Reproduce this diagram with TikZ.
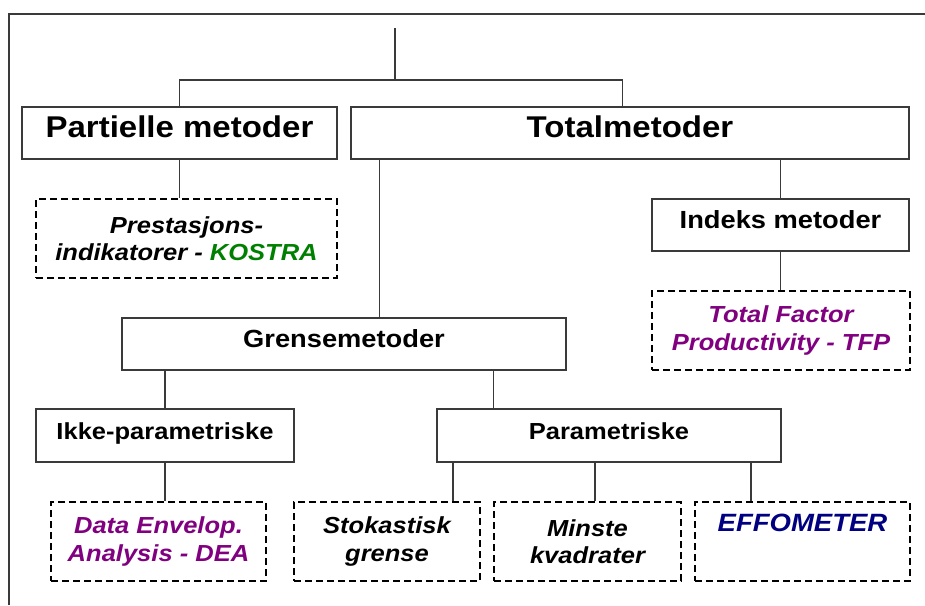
\documentclass[tikz,border=0pt]{standalone}
\usepackage{fontspec}
\setmainfont{Liberation Sans}[FakeStretch=1.1]
\usetikzlibrary{calc}
\definecolor{kostra}{RGB}{0,128,0}
\definecolor{purp}{RGB}{128,0,128}
\definecolor{navyb}{RGB}{0,0,128}
\definecolor{rule}{RGB}{58,58,58}

\begin{document}
\begin{tikzpicture}[x=1pt,y=-1pt,
  solidbox/.style={draw=rule,line width=1.2pt,rectangle,inner sep=0pt,minimum height=52},
  lvlone/.style={solidbox,font=\bfseries\fontsize{30}{34}\selectfont,text height=22pt,text depth=13pt},
  lvltwo/.style={solidbox,font=\bfseries\fontsize{24.8}{29}\selectfont,text height=18pt,text depth=10.5pt},
  lvlthree/.style={solidbox,font=\bfseries\fontsize{23.2}{27}\selectfont,text height=17pt,text depth=9pt,minimum height=53},
  dashbox/.style={draw=black,line width=2pt,dash pattern=on 7pt off 4pt,rectangle,inner sep=0pt,
    align=center,font=\bfseries\itshape\fontsize{23.2}{27.5}\selectfont,minimum height=79},
  link/.style={draw=rule,line width=1.2pt}
]
\useasboundingbox (0,0) rectangle (925,605);

% open frame along the top and left edges
\draw[link] (925,14) -- (9,14) -- (9,605);

% boxes
\node[lvlone,minimum width=315] (part)  at (179.5,133) {Partielle metoder};
\node[lvlone,minimum width=558] (total) at (630,133)   {Totalmetoder};
\node[dashbox,minimum width=301] (prest) at (186.5,238.5)
  {Prestasjons-\\indikatorer - {\color{kostra}KOSTRA}};
\node[lvltwo,minimum width=257] (indeks) at (780.5,225) {Indeks metoder};
\node[dashbox,minimum width=258,text=purp] (tfp) at (781,330.5)
  {Total Factor\\Productivity - TFP};
\node[lvltwo,minimum width=444] (grense) at (344,344) {Grensemetoder};
\node[lvlthree,minimum width=258] (ikke)  at (165,435.5) {Ikke-parametriske};
\node[lvlthree,minimum width=344] (param) at (609,435.5) {Parametriske};
\node[dashbox,minimum width=215,text=purp] (dea) at (158.5,541.5)
  {Data Envelop.\\Analysis - DEA};
\node[dashbox,minimum width=186] (stok)   at (387,541.5) {Stokastisk\\grense};
\node[dashbox,minimum width=187] (minste) at (587.5,541.5) {Minste\\kvadrater};
\node[dashbox,minimum width=215,text=navyb,font=\bfseries\itshape\fontsize{25}{29}\selectfont,
  text height=17pt,text depth=36.6pt] (effo) at (802.5,541.5) {EFFOMETER};

% tree connectors
\coordinate (root) at (395,28);
\coordinate (bar) at (395,80);
\coordinate (tstem) at ($(total.north west)+(272,0)$);
\draw[link] (root) -- (bar);
\draw[link] (part.north) |- (bar) -| (tstem);
\draw[link] (part.south) -- (part.south |- prest.north);
\coordinate (gstem) at ($(total.south west)+(29,0)$);
\draw[link] (gstem) -- (gstem |- grense.north);
\draw[link] (indeks.north) -- (indeks.north |- total.south);
\draw[link] (indeks.south) -- (indeks.south |- tfp.north);
\draw[link] (ikke.north) -- (ikke.north |- grense.south);
\coordinate (pstem) at ($(param.north west)+(57,0)$);
\draw[link] (pstem) -- (pstem |- grense.south);
\draw[link] (ikke.south) -- (ikke.south |- dea.north);
\coordinate (sstem) at ($(stok.north east)+(-28,0)$);
\draw[link] (sstem) -- (sstem |- param.south);
\coordinate (mstem) at ($(minste.north)+(7.5,0)$);
\draw[link] (mstem) -- (mstem |- param.south);
\coordinate (estem) at ($(effo.north west)+(57,0)$);
\draw[link] (estem) -- (estem |- param.south);
\end{tikzpicture}
\end{document}
